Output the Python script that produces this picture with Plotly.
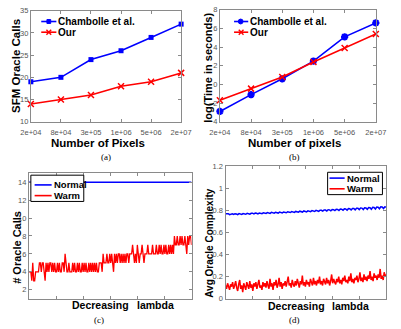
import numpy as np
import plotly.graph_objects as go

W, H = 401, 329

# ---------------- data ----------------
pixel_labels = ["2e+04", "8e+04", "3e+05", "1e+06", "5e+06", "2e+07"]
a_chambolle = [19, 20, 24, 26, 29, 32]
a_our = [14, 15, 16, 18, 19, 21]
b_chambolle = [-2.9, -1.1, 0.6, 2.5, 5.1, 6.6]
b_our = [-1.7, -0.45, 0.8, 2.4, 3.9, 5.4]

c_warm = [4, 4, 4, 3, 5, 3, 3, 4, 4, 4, 4,
          5, 5, 4, 5, 5, 4, 3,
          5, 4, 5, 4, 5, 5, 4, 5, 4, 5, 4, 4, 5, 4, 5, 4, 4, 5, 5, 4, 6,
          5, 4, 4, 5, 4, 4, 4, 5, 4, 5, 4, 4, 5, 4, 5, 4, 4, 5, 4, 5,
          4, 5, 4, 4, 5, 4, 5, 4, 5, 4, 5, 4, 5, 4, 4, 5, 5, 5, 4, 6,
          5, 5, 5, 6, 5, 5,
          6, 5, 6, 5, 4, 6, 5, 6, 5, 6, 6, 5, 6, 5, 6, 5, 6, 5, 6, 6, 5, 6, 6, 6,
          7,
          6, 5, 6, 5, 7, 6, 5, 6, 6, 7, 6, 5, 6, 6, 6, 7, 6, 6, 6, 6, 7, 6,
          6, 6, 7, 6, 6, 7, 6, 7, 6, 6, 7, 6, 7, 6, 6, 7, 6, 7, 6, 7, 6,
          8,
          7, 7, 8, 7, 7, 8, 7, 8, 7, 7, 8, 7, 6, 8, 7, 8, 8, 7]
c_normal = [14] * len(c_warm)

d_normal = [0.770, 0.768, 0.771, 0.762, 0.769, 0.770, 0.764, 0.771, 0.768, 0.763,
            0.772, 0.770, 0.765, 0.773, 0.771, 0.766, 0.774, 0.772, 0.767, 0.775,
            0.776, 0.770, 0.777, 0.775, 0.769, 0.778, 0.777, 0.771, 0.780, 0.778,
            0.773, 0.781, 0.780, 0.774, 0.783, 0.781, 0.776, 0.784, 0.782, 0.777,
            0.786, 0.785, 0.778, 0.787, 0.786, 0.780, 0.789, 0.788, 0.782, 0.791,
            0.790, 0.783, 0.792, 0.791, 0.785, 0.794, 0.793, 0.786, 0.796, 0.795,
            0.788, 0.797, 0.796, 0.790, 0.799, 0.798, 0.791, 0.801, 0.800, 0.793,
            0.803, 0.802, 0.794, 0.805, 0.804, 0.796, 0.807, 0.806, 0.797, 0.809,
            0.808, 0.799, 0.811, 0.810, 0.800, 0.813, 0.812, 0.802, 0.815, 0.814,
            0.803, 0.817, 0.816, 0.805, 0.819, 0.818, 0.806, 0.821, 0.820, 0.808,
            0.823, 0.822, 0.809, 0.825, 0.824, 0.811, 0.827, 0.826, 0.812, 0.829,
            0.828, 0.814, 0.831, 0.830, 0.816, 0.833, 0.832, 0.818, 0.834, 0.831]
d_warm = [0.12, 0.09, 0.14, 0.10, 0.08, 0.13, 0.11, 0.15, 0.09, 0.12,
          0.16, 0.10, 0.07, 0.13, 0.17, 0.09, 0.12, 0.06, 0.14, 0.11,
          0.08, 0.15, 0.12, 0.09, 0.16, 0.10, 0.13, 0.07, 0.14, 0.11,
          0.15, 0.09, 0.13, 0.17, 0.10, 0.12, 0.08, 0.15, 0.11, 0.14,
          0.10, 0.16, 0.12, 0.09, 0.18, 0.11, 0.14, 0.08, 0.15, 0.12,
          0.17, 0.10, 0.13, 0.19, 0.11, 0.15, 0.09, 0.14, 0.12, 0.16,
          0.11, 0.15, 0.20, 0.12, 0.14, 0.10, 0.17, 0.13, 0.11, 0.16,
          0.12, 0.18, 0.14, 0.10, 0.16, 0.13, 0.21, 0.12, 0.15, 0.11,
          0.17, 0.13, 0.15, 0.11, 0.18, 0.14, 0.12, 0.19, 0.13, 0.16,
          0.12, 0.17, 0.14, 0.20, 0.13, 0.16, 0.12, 0.18, 0.15, 0.13,
          0.19, 0.14, 0.17, 0.12, 0.16, 0.22, 0.14, 0.18, 0.15, 0.13,
          0.18, 0.15, 0.20, 0.14, 0.17, 0.13, 0.19, 0.16, 0.21, 0.15,
          0.17, 0.14, 0.20, 0.16, 0.23, 0.15, 0.18, 0.14, 0.19, 0.17,
          0.21, 0.15, 0.18, 0.24, 0.16, 0.19, 0.15, 0.22, 0.17, 0.20,
          0.16, 0.21, 0.18, 0.25, 0.17, 0.20, 0.16, 0.23, 0.19, 0.21,
          0.17, 0.22, 0.19, 0.27, 0.18, 0.21, 0.17, 0.24, 0.20, 0.22]

BLUE = "#0000ff"
RED = "#ff0000"
AX = "#8a8a8a"
TICKC = "#555555"
FONT = "Liberation Sans"
SERIF = "Liberation Serif"


def dx(l, r):
    return [l / W, r / W]


def dy(t, b):
    return [1 - b / H, 1 - t / H]


def px(x):
    return x / W


def py(y):
    return 1 - y / H


fig = go.Figure()

xi = list(range(len(pixel_labels)))
# (a)
fig.add_trace(go.Scatter(x=xi, y=a_chambolle, mode="lines+markers", name="Chambolle et al.",
                         line=dict(color=BLUE, width=1.6),
                         marker=dict(symbol="square", size=5, color=BLUE),
                         cliponaxis=False, xaxis="x", yaxis="y"))
fig.add_trace(go.Scatter(x=xi, y=a_our, mode="lines+markers", name="Our",
                         line=dict(color=RED, width=1.6),
                         marker=dict(symbol="x-thin-open", size=6, color=RED,
                                     line=dict(color=RED, width=1.5)),
                         cliponaxis=False, xaxis="x", yaxis="y"))
# (b)
fig.add_trace(go.Scatter(x=xi, y=b_chambolle, mode="lines+markers", name="Chambolle et al.",
                         line=dict(color=BLUE, width=1.6),
                         marker=dict(symbol="asterisk-open", size=6, color=BLUE,
                                     line=dict(color=BLUE, width=2.2)),
                         cliponaxis=False, xaxis="x2", yaxis="y2"))
fig.add_trace(go.Scatter(x=xi, y=b_our, mode="lines+markers", name="Our",
                         line=dict(color=RED, width=1.6),
                         marker=dict(symbol="x-thin-open", size=6, color=RED,
                                     line=dict(color=RED, width=1.5)),
                         cliponaxis=False, xaxis="x2", yaxis="y2"))
# (c)
ci = list(range(len(c_warm)))
fig.add_trace(go.Scatter(x=ci, y=c_normal, mode="lines", name="Normal",
                         line=dict(color=BLUE, width=1.6), xaxis="x3", yaxis="y3"))
fig.add_trace(go.Scatter(x=ci, y=c_warm, mode="lines", name="Warm",
                         line=dict(color=RED, width=1.3), xaxis="x3", yaxis="y3"))
# (d)
dn = np.linspace(0, 1, len(d_normal))
dw = np.linspace(0, 1, len(d_warm))
fig.add_trace(go.Scatter(x=dn, y=d_normal, mode="lines", name="Normal",
                         line=dict(color=BLUE, width=1.5), xaxis="x4", yaxis="y4"))
fig.add_trace(go.Scatter(x=dw, y=d_warm, mode="lines", name="Warm",
                         line=dict(color=RED, width=1.5), xaxis="x4", yaxis="y4"))

common = dict(showline=True, linecolor=AX, linewidth=1, mirror="ticks", ticks="inside",
              ticklen=3, tickcolor=AX, tickfont=dict(family=FONT, size=7.5, color=TICKC),
              showgrid=False, zeroline=False, fixedrange=True)

n_c = len(c_warm) - 1
fig.update_layout(
    width=W, height=H, margin=dict(l=0, r=0, t=0, b=0),
    paper_bgcolor="white", plot_bgcolor="white", showlegend=False,
    font=dict(family=FONT, color="black"),
    xaxis=dict(domain=dx(21, 180), range=[0, 5], tickvals=xi, ticktext=pixel_labels,
               anchor="y", ticklabelstandoff=3, **common),
    yaxis=dict(domain=dy(7, 121), range=[10, 35], tickvals=[10, 15, 20, 25, 30, 35],
               anchor="x", **common),
    xaxis2=dict(domain=dx(221, 386), range=[0, 5], tickvals=xi, ticktext=pixel_labels,
                anchor="y2", ticklabelstandoff=3, **common),
    yaxis2=dict(domain=dy(6, 121), range=[-4, 8], tickvals=[-4, -2, 0, 2, 4, 6, 8],
                anchor="x2", **common),
    xaxis3=dict(domain=dx(19, 191), range=[0, n_c],
                tickvals=[n_c * k / 6 for k in range(1, 6)], showticklabels=False,
                anchor="y3", **common),
    yaxis3=dict(domain=dy(174, 303), range=[1, 15], tickvals=[2, 4, 6, 8, 10, 12, 14],
                anchor="x3", **common),
    xaxis4=dict(domain=dx(227, 397), range=[0, 1],
                tickvals=[k / 6 for k in range(1, 6)], showticklabels=False,
                anchor="y4", **common),
    yaxis4=dict(domain=dy(167, 303), range=[0, 1.2], tickvals=[0, 0.2, 0.4, 0.6, 0.8, 1, 1.2],
                ticktext=["0", "0.2", "0.4", "0.6", "0.8", "1", "1.2"],
                anchor="x4", **common),
)

ann = []
shapes = []


def add_text(x, y, text, size, angle=0, bold=True, family=FONT, xanchor="center"):
    ann.append(dict(x=px(x), y=py(y), xref="paper", yref="paper", text=text,
                    showarrow=False, textangle=angle, xanchor=xanchor, yanchor="middle",
                    borderpad=0,
                    font=dict(family=family, size=size, color="black",
                              weight="bold" if bold else "normal")))


def seg(x0, y0, x1, y1, color, width):
    shapes.append(dict(type="line", xref="paper", yref="paper",
                       x0=px(x0), y0=py(y0), x1=px(x1), y1=py(y1),
                       line=dict(color=color, width=width)))


def box(x0, y0, x1, y1, line_color="black", fill=None, width=1):
    shapes.append(dict(type="rect", xref="paper", yref="paper",
                       x0=px(x0), y0=py(y0), x1=px(x1), y1=py(y1),
                       line=dict(color=line_color, width=width),
                       fillcolor=fill if fill else "rgba(0,0,0,0)"))


def xmark(cx, cy, color, r=2.5):
    seg(cx - r, cy - r, cx + r, cy + r, color, 1.4)
    seg(cx - r, cy + r, cx + r, cy - r, color, 1.4)


# legend (a)
seg(32, 18, 48, 18, BLUE, 1.6)
box(38, 16, 42, 20, line_color=BLUE, fill=BLUE)
add_text(49, 18, "Chambolle et al.", 10, xanchor="left")
seg(32, 29, 48, 29, RED, 1.6)
xmark(40, 29, RED)
add_text(49, 29, "Our", 10, xanchor="left")

# legend (b)
seg(236, 18, 251, 18, BLUE, 1.6)
shapes.append(dict(type="circle", xref="paper", yref="paper", x0=px(240.5), y0=py(20.5),
                   x1=px(245.5), y1=py(15.5), line=dict(color=BLUE, width=1),
                   fillcolor=BLUE))
add_text(252, 18, "Chambolle et al.", 10, xanchor="left")
seg(236, 29, 251, 29, RED, 1.6)
xmark(243.5, 29, RED)
add_text(252, 29, "Our", 10, xanchor="left")

# legend (c)
box(21, 176, 77, 203, fill="white")
seg(25, 186, 43, 186, BLUE, 1.6)
add_text(44, 186, "Normal", 9.5, xanchor="left")
seg(25, 197, 43, 197, RED, 1.6)
add_text(44, 197, "Warm", 9.5, xanchor="left")

# legend (d)
box(335, 173, 393, 196, fill="white")
seg(337, 179, 353, 179, BLUE, 1.6)
add_text(354, 179, "Normal", 9.5, xanchor="left")
seg(337, 190, 353, 190, RED, 1.6)
add_text(354, 190, "Warm", 9.5, xanchor="left")

add_text(6, 64, "SFM Oracle Calls", 11.5, angle=-90)
add_text(92, 142.5, "Number of Pixels", 11.5)
add_text(100, 157, "(a)", 9, bold=False, family=SERIF)
add_text(209, 66, "log(Time in seconds)", 11, angle=-90)
add_text(300, 142.5, "Number of pixels", 11.5)
add_text(300, 157, "(b)", 9, bold=False, family=SERIF)
add_text(6, 250, "# Oracle Calls", 11, angle=-90)
add_text(95, 309, "Decreasing", 10.5)
add_text(153, 309, "lambda", 10.5)
add_text(93, 325, "(c)", 9, bold=False, family=SERIF)
add_text(210, 245, "Avg Oracle Complexity", 10, angle=-90)
add_text(302, 310, "Decreasing", 10.5)
add_text(359, 310, "lambda", 10.5)
add_text(300, 325, "(d)", 9, bold=False, family=SERIF)

fig.update_layout(annotations=ann, shapes=shapes)
fig.write_html("out.html")
